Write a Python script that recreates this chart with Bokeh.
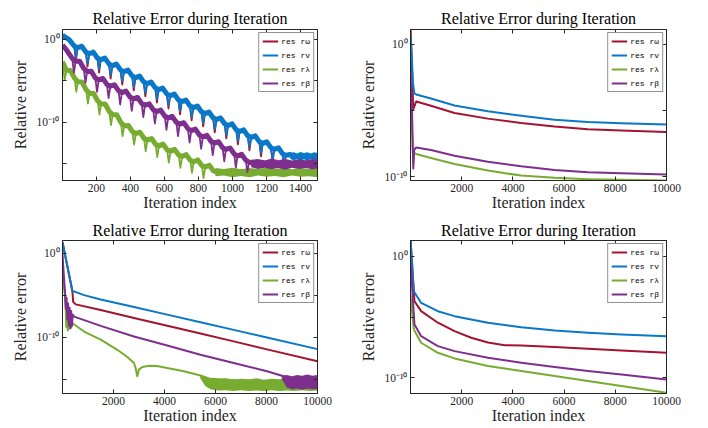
from bokeh.plotting import figure
from bokeh.models import (Range1d, FixedTicker, CustomJSTickFormatter, LogAxis,
                          LinearAxis, Legend, LegendItem)
from bokeh.layouts import column, row
from bokeh.embed import file_html
from bokeh.resources import INLINE

# ---------------- text ----------------
TITLE = "Relative Error during Iteration"
XLABEL = "Iteration index"
YLABEL = "Relative error"
LEGEND_LABELS = ["res r\u03c9", "res rv", "res r\u03bb", "res r\u03b2"]

# ---------------- ticks ----------------
P1_XTICKS = [200, 400, 600, 800, 1000, 1200, 1400]
XTICKS_10K = [2000, 4000, 6000, 8000, 10000]
Y_MAJOR = [1.0, 1e-10]
Y_MINOR_DEEP = [1e-5, 1e-15]
Y_MINOR_SHALLOW = [1e-5]

# ---------------- data (log10 of relative error) ----------------
# Panel 1 (1..1500 iterations): band centre line + periodic downward spikes
p1_blue_trend_iter = [1, 40, 70, 90, 114, 138, 158, 182, 206, 226, 250, 274, 294, 318, 342,
                      362, 386, 410, 430, 454, 478, 498, 522, 546, 566, 590, 614, 634, 658, 682,
                      702, 726, 750, 770, 794, 818, 838, 862, 886, 906, 930, 954, 974, 998, 1022,
                      1042, 1066, 1090, 1110, 1134, 1158, 1178, 1202, 1226, 1246, 1270, 1294,
                      1314, 1338, 1362, 1500]
p1_blue_trend = [0.5, -0.02, -0.79, -1.00, -0.81, -1.51, -1.72, -1.53, -2.23, -2.44, -2.25, -2.95,
                 -3.16, -2.97, -3.67, -3.88, -3.69, -4.39, -4.60, -4.41, -5.11, -5.32, -5.13, -5.83,
                 -6.05, -5.86, -6.56, -6.77, -6.58, -7.28, -7.49, -7.30, -8.00, -8.21, -8.02, -8.72,
                 -8.93, -8.74, -9.44, -9.65, -9.46, -10.16, -10.37, -10.18, -10.88, -11.09, -10.90,
                 -11.60, -11.81, -11.62, -12.32, -12.53, -12.34, -13.04, -13.25, -13.06, -13.76,
                 -13.97, -13.85, -14.15, -14.1]
p1_blue_dip_iter = [80, 148, 216, 284, 352, 420, 488, 556, 624, 692, 760, 828, 896, 964, 1032,
                    1100, 1168, 1236, 1304]
p1_blue_dip = [-2.15, -2.87, -3.59, -4.31, -5.03, -5.75, -6.47, -7.20, -7.92, -8.64, -9.36, -10.08,
               -10.80, -11.52, -12.24, -12.96, -13.68, -14.40, -15.12]
p1_red_dip = [-2.55, -3.27, -3.99, -4.71, -5.43, -6.15, -6.87, -7.60, -8.32, -9.04, -9.76, -10.48,
              -11.20, -11.92, -12.64, -13.36, -14.08, -14.80, -15.52]
p1_green_trend_iter = [1, 24, 48, 72, 92, 116, 140, 160, 184, 208, 228, 252, 276, 296, 320, 344,
                       364, 388, 412, 432, 456, 480, 500, 524, 548, 568, 592, 616, 636, 660, 684,
                       704, 728, 752, 772, 796, 820, 840, 864, 888, 910, 1500]
p1_green_trend = [-2.7, -3.71, -3.75, -4.68, -5.09, -5.13, -6.07, -6.48, -6.52, -7.41, -7.79, -7.78,
                  -8.68, -9.06, -9.08, -10.00, -10.40, -10.37, -11.11, -11.34, -11.18, -11.91,
                  -12.15, -11.94, -12.63, -12.83, -12.62, -13.30, -13.48, -13.25, -13.92, -14.11,
                  -13.88, -14.55, -14.74, -14.52, -15.19, -15.38, -15.16, -15.84, -16.0, -16.05]
p1_green_dip_iter = [14, 82, 150, 218, 286, 354, 422, 490, 558, 626, 694, 762, 830]
p1_green_dip = [-4.9, -6.30, -7.72, -9.05, -10.32, -11.65, -12.67, -13.48, -14.18, -14.84, -15.47,
                -16.09, -16.70]
p1_purple_trend_iter = [1, 20, 58, 78, 102, 126, 146, 170, 194, 214, 238, 262, 282, 306, 330, 350,
                        374, 398, 418, 442, 466, 486, 510, 534, 554, 578, 602, 622, 646, 670, 690,
                        714, 738, 758, 782, 806, 826, 850, 874, 894, 918, 942, 962, 986, 1010,
                        1030, 1054, 1078, 1098, 1120, 1500]
p1_purple_trend = [-0.7, -1.14, -2.28, -2.64, -2.62, -3.50, -3.86, -3.84, -4.65, -4.88, -4.70,
                   -5.41, -5.64, -5.46, -6.17, -6.40, -6.22, -6.93, -7.17, -6.99, -7.70, -7.93,
                   -7.75, -8.46, -8.69, -8.51, -9.22, -9.45, -9.27, -9.98, -10.21, -10.03, -10.74,
                   -10.98, -10.80, -11.51, -11.74, -11.56, -12.27, -12.50, -12.32, -13.03, -13.26,
                   -13.08, -13.79, -14.03, -13.85, -14.55, -14.79, -14.9, -15.0]
p1_purple_dip_iter = [68, 136, 204, 272, 340, 408, 476, 544, 612, 680, 748, 816, 884, 952, 1020, 1088]
p1_purple_dip = [-4.01, -5.23, -6.32, -7.08, -7.84, -8.61, -9.37, -10.13, -10.89, -11.65, -12.42,
                 -13.18, -13.94, -14.70, -15.46, -16.0]
# noise floors of panel 1 (upper / lower edge of the fuzzy band)
p1_floor_blue_iter = [1340, 1360, 1380, 1400, 1420, 1440, 1460, 1480, 1500]
p1_floor_blue_hi = [-13.7, -13.6, -13.75, -13.55, -13.7, -13.6, -13.75, -13.6, -13.7]
p1_floor_blue_lo = [-14.4, -14.55, -14.4, -14.6, -14.45, -14.6, -14.4, -14.55, -14.5]
p1_floor_purple_iter = [1110, 1150, 1190, 1230, 1270, 1310, 1350, 1390, 1430, 1470, 1500]
p1_floor_purple_hi = [-14.5, -14.4, -14.6, -14.35, -14.55, -14.4, -14.6, -14.45, -14.55, -14.4, -14.5]
p1_floor_purple_lo = [-15.4, -15.6, -15.45, -15.65, -15.5, -15.7, -15.45, -15.6, -15.5, -15.65, -15.55]
p1_floor_green_iter = [900, 950, 1000, 1050, 1100, 1150, 1200, 1250, 1300, 1350, 1400, 1450, 1500]
p1_floor_green_hi = [-15.5, -15.6, -15.45, -15.65, -15.5, -15.6, -15.45, -15.6, -15.5, -15.65, -15.5, -15.6, -15.5]
p1_floor_green_lo = [-16.5, -16.4, -16.6, -16.45, -16.6, -16.4, -16.55, -16.45, -16.6, -16.4, -16.55, -16.5, -16.6]

# Panel 2 (1..10000)
p2_iter_red = [1, 60, 110, 222, 800, 1719, 3021, 4323, 5625, 6927, 8229, 10000]
p2_red = [1.5, -2.0, -4.9, -4.33, -4.65, -5.2, -5.62, -5.95, -6.22, -6.42, -6.52, -6.64]
p2_iter_blue = [1, 40, 100, 150, 222, 800, 1719, 3021, 4323, 5625, 6927, 8229, 10000]
p2_blue = [0.65, -0.5, -3.0, -3.7, -3.8, -4.1, -4.63, -5.07, -5.4, -5.7, -5.87, -5.97, -6.07]
p2_iter_green = [1, 60, 110, 150, 222, 800, 1719, 3021, 4323, 5625, 6927, 8229, 10000]
p2_green = [-3.5, -6.5, -9.0, -8.2, -8.3, -8.6, -9.05, -9.55, -9.93, -10.1, -10.2, -10.25, -10.3]
p2_iter_purple = [1, 60, 110, 140, 222, 800, 1719, 3021, 4323, 5625, 6927, 8229, 10000]
p2_purple = [-2.3, -5.0, -9.4, -8.0, -7.8, -8.0, -8.43, -8.88, -9.23, -9.5, -9.68, -9.75, -9.85]

# Panel 3 (1..10000)
p3_iter_red = [1, 391, 420, 520, 1499, 2803, 4107, 5411, 6714, 8018, 10000]
p3_red = [1.3, -4.6, -5.8, -6.1, -6.77, -7.71, -8.64, -9.57, -10.5, -11.45, -12.87]
p3_iter_blue = [1, 391, 847, 1499, 2803, 4107, 5411, 6714, 8018, 10000]
p3_blue = [1.3, -4.49, -5.0, -5.51, -6.42, -7.32, -8.23, -9.13, -10.04, -11.42]
p3_iter_green = [1, 60, 120, 150, 180, 210, 240, 270, 300, 330, 360, 391, 847, 1499, 2151,
                 2543, 2803, 2868, 2933, 2999, 3129, 3400, 3700, 4107, 4759, 5411, 5800, 10000]
p3_green = [-1.3, -4.0, -6.2, -8.8, -7.0, -9.2, -7.2, -9.0, -7.5, -8.9, -7.8, -8.35, -9.33, -10.3, -11.5,
            -12.36, -13.07, -13.66, -14.64, -13.86, -13.54, -13.39, -13.42, -13.66, -14.05, -14.56, -14.96, -15.7]
p3_iter_purple = [1, 60, 100, 130, 160, 190, 220, 250, 280, 310, 340, 370, 400, 456,
                  1499, 2803, 4107, 5411, 6714, 8018, 8670, 9300, 10000]
p3_purple = [-0.1, -3.0, -4.6, -6.6, -5.3, -7.9, -6.0, -8.6, -6.5, -8.9, -6.9, -8.7, -7.3, -7.56,
             -8.66, -9.92, -11.0, -12.09, -13.07, -14.05, -14.64, -15.4, -15.4]
p3_floor_green_iter = [5400, 5600, 5800, 6100, 6400, 6700, 7000, 7300, 7600, 7900, 8200, 8500,
                       8800, 9100, 9400, 9700, 10000]
p3_floor_green_hi = [-14.6, -14.8, -14.95, -15.0, -14.9, -15.05, -14.95, -15.0, -14.9, -15.05, -14.95,
                     -15.0, -14.9, -15.05, -14.95, -15.0, -14.95]
p3_floor_green_lo = [-14.9, -15.8, -16.2, -16.35, -16.3, -16.4, -16.3, -16.4, -16.35, -16.4, -16.3,
                     -16.4, -16.35, -16.4, -16.3, -16.4, -16.35]
p3_floor_purple_iter = [8600, 8800, 9000, 9200, 9400, 9600, 9800, 10000]
p3_floor_purple_hi = [-14.6, -14.5, -14.65, -14.5, -14.6, -14.45, -14.6, -14.5]
p3_floor_purple_lo = [-15.0, -16.0, -16.2, -16.1, -16.25, -16.1, -16.2, -16.15]

# Panel 4 (1..10000)
p4_iter_red = [1, 156, 417, 1069, 1721, 2373, 3025, 3677, 4329, 5632, 6936, 8240, 10000]
p4_red = [1.4, -3.7, -4.52, -5.47, -6.16, -6.71, -7.1, -7.32, -7.34, -7.48, -7.62, -7.75, -7.95]
p4_iter_blue = [1, 130, 417, 1069, 1721, 3025, 4329, 5632, 6936, 8240, 10000]
p4_blue = [1.4, -2.88, -3.84, -4.52, -4.93, -5.48, -5.84, -6.11, -6.30, -6.44, -6.58]
p4_iter_green = [1, 130, 417, 1069, 1721, 3025, 4329, 5632, 6936, 8240, 10000]
p4_green = [-3.2, -6.03, -7.12, -7.95, -8.41, -9.04, -9.45, -9.86, -10.27, -10.68, -11.23]
p4_iter_purple = [1, 156, 417, 1069, 1721, 3025, 4329, 5632, 6936, 8240, 10000]
p4_purple = [-0.5, -5.62, -6.58, -7.40, -7.81, -8.36, -8.77, -9.12, -9.45, -9.73, -10.14]

# ---------------- style ----------------
RED, BLUE, GREEN, PURPLE = "#A2142F", "#0A78C8", "#77AC30", "#7E2F8E"
AX = "#262626"
SERIF = "Liberation Serif"
MONO = "Liberation Mono"
FIG_W = 354
FIG_H = 214

SUP_JS = """
const e = Math.round(Math.log10(tick));
const m = {"0":"\u2070","1":"\u00b9","2":"\u00b2","3":"\u00b3","4":"\u2074","5":"\u2075",
           "6":"\u2076","7":"\u2077","8":"\u2078","9":"\u2079","-":"\u207b"};
let s = "";
for (const c of String(e)) { s += m[c]; }
return "10" + s;
"""


def pw(vals):
    return [10.0 ** v for v in vals]


def merge(it_a, v_a, it_b, v_b):
    pts = sorted(zip(list(it_a) + list(it_b), list(v_a) + list(v_b)))
    return [p[0] for p in pts], [p[1] for p in pts]


def style_axis(ax, size):
    ax.axis_line_color = AX
    ax.major_tick_line_color = AX
    ax.minor_tick_line_color = AX
    ax.major_tick_in = 4
    ax.major_tick_out = 0
    ax.minor_tick_in = 4
    ax.minor_tick_out = 0
    ax.major_label_text_font = SERIF
    ax.major_label_text_font_size = size
    ax.major_label_text_color = AX
    ax.axis_label_text_font = SERIF
    ax.axis_label_text_font_size = "16px"
    ax.axis_label_text_font_style = "normal"
    ax.axis_label_text_color = AX


def make_panel(xmax, xticks, ylim, yminor, borders, title_standoff):
    left, right, top, bottom = borders
    p = figure(width=FIG_W, height=FIG_H, x_range=Range1d(1, xmax),
               y_range=Range1d(10.0 ** ylim[0], 10.0 ** ylim[1]), y_axis_type="log",
               output_backend="svg", toolbar_location=None, title=TITLE,
               min_border_left=left, min_border_right=right,
               min_border_top=top, min_border_bottom=bottom)
    p.title.text_font = SERIF
    p.title.text_font_size = "16px"
    p.title.text_font_style = "normal"
    p.title.text_color = "#000000"
    p.title.align = "center"
    p.title.standoff = title_standoff
    p.xgrid.visible = False
    p.ygrid.visible = False
    p.outline_line_color = AX
    p.outline_line_alpha = 1.0
    p.background_fill_color = "white"
    p.border_fill_color = "white"

    xa = p.xaxis[0]
    ya = p.yaxis[0]
    xa.ticker = FixedTicker(ticks=xticks)
    ya.ticker = FixedTicker(ticks=Y_MAJOR, minor_ticks=yminor)
    ya.formatter = CustomJSTickFormatter(code=SUP_JS)
    style_axis(xa, "11.5px")
    style_axis(ya, "11.5px")
    xa.axis_label = XLABEL
    ya.axis_label = YLABEL
    xa.major_label_standoff = 3
    xa.axis_label_standoff = -1
    ya.major_label_standoff = 3
    ya.axis_label_standoff = 5

    ra = LogAxis(ticker=FixedTicker(ticks=Y_MAJOR, minor_ticks=yminor),
                 formatter=CustomJSTickFormatter(code="return '';"))
    ta = LinearAxis(ticker=FixedTicker(ticks=xticks),
                    formatter=CustomJSTickFormatter(code="return '';"))
    for a in (ra, ta):
        style_axis(a, "0px")
        a.major_label_standoff = 0
    p.add_layout(ra, "right")
    p.add_layout(ta, "above")
    return p


def add_line(p, its, logs, color, width):
    return p.line(its, pw(logs), line_color=color, line_width=width, line_join="round")


def add_band(p, its, hi, lo, color):
    p.varea(x=its, y1=pw(lo), y2=pw(hi), fill_color=color, fill_alpha=1.0)


def add_legend(p, renderers):
    items = [LegendItem(label=lbl, renderers=[r]) for lbl, r in zip(LEGEND_LABELS, renderers)]
    leg = Legend(items=items, location="top_right")
    leg.border_line_color = AX
    leg.border_line_width = 1
    leg.background_fill_color = "white"
    leg.background_fill_alpha = 1.0
    leg.label_text_font = MONO
    leg.label_text_font_size = "8px"
    leg.label_text_color = "#000000"
    leg.glyph_width = 16
    leg.glyph_height = 10
    leg.label_height = 10
    leg.label_standoff = 3
    leg.spacing = 4
    leg.padding = 3
    leg.margin = 3
    p.add_layout(leg)


# ---------------- panel 1 ----------------
p1 = make_panel(1500, P1_XTICKS, (-17.0, 1.2), Y_MINOR_DEEP, (62, 37, 29, 32), 6)
rx, ry = merge(p1_blue_trend_iter, p1_blue_trend, p1_blue_dip_iter, p1_red_dip)
r_red = add_line(p1, rx, ry, RED, 1.8)
add_line(p1, p1_blue_trend_iter, p1_blue_trend, BLUE, 5)
bx, by = merge(p1_blue_trend_iter, p1_blue_trend, p1_blue_dip_iter, p1_blue_dip)
r_blue = add_line(p1, bx, by, BLUE, 1.8)
add_band(p1, p1_floor_blue_iter, p1_floor_blue_hi, p1_floor_blue_lo, BLUE)
add_line(p1, p1_green_trend_iter, p1_green_trend, GREEN, 5)
gx, gy = merge(p1_green_trend_iter, p1_green_trend, p1_green_dip_iter, p1_green_dip)
r_green = add_line(p1, gx, gy, GREEN, 1.8)
add_band(p1, p1_floor_green_iter, p1_floor_green_hi, p1_floor_green_lo, GREEN)
add_line(p1, p1_purple_trend_iter, p1_purple_trend, PURPLE, 5)
px, py = merge(p1_purple_trend_iter, p1_purple_trend, p1_purple_dip_iter, p1_purple_dip)
r_purple = add_line(p1, px, py, PURPLE, 1.8)
add_band(p1, p1_floor_purple_iter, p1_floor_purple_hi, p1_floor_purple_lo, PURPLE)
add_legend(p1, [r_red, r_blue, r_green, r_purple])

# ---------------- panel 2 ----------------
p2 = make_panel(10000, XTICKS_10K, (-10.3, 1.12), Y_MINOR_SHALLOW, (56, 42, 27, 34), 5)
rs = [add_line(p2, p2_iter_red, p2_red, RED, 2),
      add_line(p2, p2_iter_blue, p2_blue, BLUE, 2),
      add_line(p2, p2_iter_green, p2_green, GREEN, 2),
      add_line(p2, p2_iter_purple, p2_purple, PURPLE, 2)]
add_legend(p2, rs)

# ---------------- panel 3 ----------------
p3 = make_panel(10000, XTICKS_10K, (-16.7, 1.5), Y_MINOR_DEEP, (62, 37, 25, 34), 3)
r3r = add_line(p3, p3_iter_red, p3_red, RED, 2)
r3b = add_line(p3, p3_iter_blue, p3_blue, BLUE, 2)
r3g = add_line(p3, p3_iter_green, p3_green, GREEN, 2)
add_band(p3, p3_floor_green_iter, p3_floor_green_hi, p3_floor_green_lo, GREEN)
r3p = add_line(p3, p3_iter_purple, p3_purple, PURPLE, 2)
add_band(p3, p3_floor_purple_iter, p3_floor_purple_hi, p3_floor_purple_lo, PURPLE)
add_legend(p3, [r3r, r3b, r3g, r3p])

# ---------------- panel 4 ----------------
p4 = make_panel(10000, XTICKS_10K, (-11.3, 1.3), Y_MINOR_SHALLOW, (56, 42, 26, 35), 4)
rs4 = [add_line(p4, p4_iter_red, p4_red, RED, 2),
       add_line(p4, p4_iter_blue, p4_blue, BLUE, 2),
       add_line(p4, p4_iter_green, p4_green, GREEN, 2),
       add_line(p4, p4_iter_purple, p4_purple, PURPLE, 2)]
add_legend(p4, rs4)

layout = column(row(p1, p2), row(p3, p4))
open("out.html", "w", encoding="utf-8").write(file_html(layout, INLINE))
